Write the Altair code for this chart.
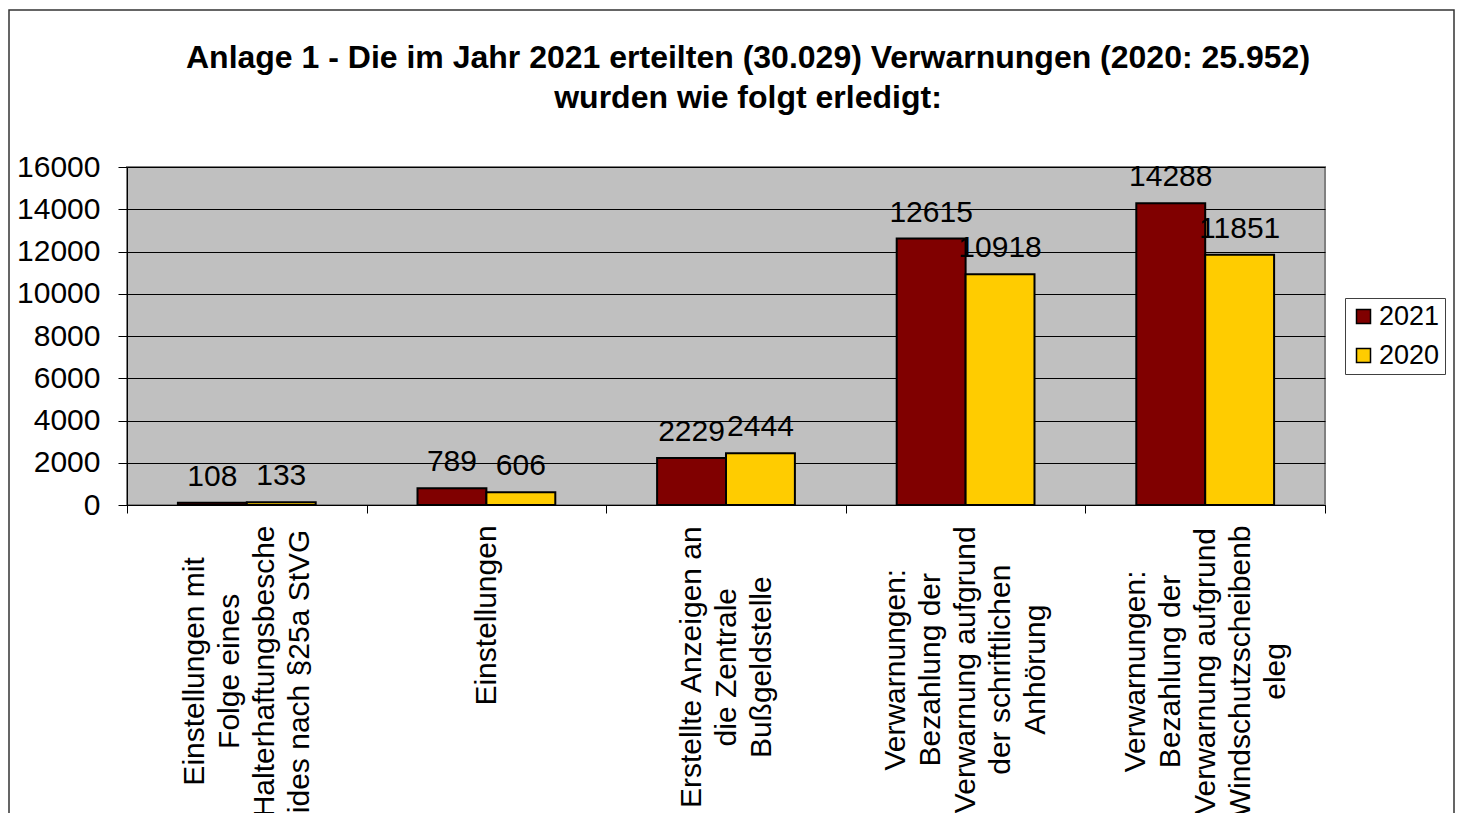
import json
import altair as alt
import pandas as pd

FONT = "Liberation Sans"

# ---- data -------------------------------------------------------------
category_lines = [
    ["Einstellungen mit", "Folge eines", "Halterhaftungsbesche", "ides nach §25a StVG"],
    ["Einstellungen"],
    ["Erstellte Anzeigen an", "die Zentrale", "Bußgeldstelle"],
    ["Verwarnungen:", "Bezahlung der", "Verwarnung aufgrund", "der schriftlichen", "Anhörung"],
    ["Verwarnungen:", "Bezahlung der", "Verwarnung aufgrund", "Windschutzscheibenb", "eleg"],
]
years = ["2021", "2020"]
values_2021 = [108, 789, 2229, 12615, 14288]
values_2020 = [133, 606, 2444, 10918, 11851]
y_ticks = [0, 2000, 4000, 6000, 8000, 10000, 12000, 14000, 16000]
title_lines = [
    "Anlage 1 - Die im Jahr 2021 erteilten (30.029) Verwarnungen (2020: 25.952)",
    "wurden wie folgt erledigt:",
]
colors = ["#800000", "#FFCC00"]

categories = ["|".join(lines) for lines in category_lines]

rows = []
for cat, v21, v20 in zip(categories, values_2021, values_2020):
    rows.append({"category": cat, "year": "2021", "value": v21})
    rows.append({"category": cat, "year": "2020", "value": v20})
df = pd.DataFrame(rows)

# ---- label layout (centre multi-line rotated labels like Excel) --------
ARIAL = {
    " ": 278, "a": 556, "b": 556, "c": 500, "d": 556, "e": 556, "f": 278, "g": 556,
    "h": 556, "i": 222, "j": 222, "k": 500, "l": 222, "m": 833, "n": 556, "o": 556,
    "p": 556, "q": 556, "r": 333, "s": 500, "t": 278, "u": 556, "v": 500, "w": 722,
    "x": 500, "y": 500, "z": 500, "A": 667, "B": 667, "E": 667, "F": 611, "H": 722,
    "S": 667, "V": 667, "W": 944, "G": 778, "Z": 611, "§": 556, "ß": 611, "ö": 556,
    ":": 278, ".": 278,
}
LABEL_SIZE = 30
LINE_H = 35


def text_width(s, size):
    return sum(ARIAL.get(ch, 556) for ch in s) / 1000.0 * size


GAP = 12
pad_conds = []
off_conds = []
for cat, lines in zip(categories, category_lines):
    test = "datum.value === " + json.dumps(cat)
    longest = max(text_width(l, LABEL_SIZE) for l in lines)
    pad_conds.append({"test": test, "value": round(GAP + longest / 2, 1)})
    off_conds.append({"test": test, "value": -(len(lines) - 1) * LINE_H / 2})
label_padding = {"condition": pad_conds, "value": 100}
label_offset = {"condition": off_conds, "value": 0}

# ---- chart --------------------------------------------------------------
x_enc = alt.X(
    "category:N",
    sort=categories,
    title=None,
    scale=alt.Scale(paddingInner=0, paddingOuter=0),
    axis=alt.Axis(
        labelExpr="split(datum.label, '|')",
        labelAngle=270,
        labelAlign="center",
        labelBaseline="middle",
        labelPadding=label_padding,
        labelOffset=label_offset,
        labelLineHeight=LINE_H,
        labelFont=FONT,
        labelFontSize=LABEL_SIZE,
        labelColor="black",
        labelLimit=2000,
        labelOverlap=False,
        tickBand="extent",
        tickSize=8,
        tickColor="black",
        domainColor="black",
        domainWidth=1,
        grid=False,
    ),
)
xoff_enc = alt.XOffset(
    "year:N", sort=years, scale=alt.Scale(paddingInner=0, paddingOuter=0.7388)
)
y_enc = alt.Y(
    "value:Q",
    title=None,
    scale=alt.Scale(domain=[0, 16000], nice=False),
    axis=alt.Axis(
        values=y_ticks,
        labelFont=FONT,
        labelFontSize=30,
        labelColor="black",
        labelPadding=18,
        tickSize=9,
        tickColor="black",
        domainColor="black",
        grid=True,
        gridColor="black",
        gridWidth=1,
        format="d",
    ),
)

base = alt.Chart(df)

bars = base.mark_bar(stroke="black", strokeWidth=2).encode(
    x=x_enc,
    xOffset=xoff_enc,
    y=y_enc,
    color=alt.Color(
        "year:N",
        sort=years,
        scale=alt.Scale(domain=years, range=colors),
        legend=alt.Legend(
            title=None,
            orient="none",
            legendX=1218,
            legendY=131,
            strokeColor="#404040",
            fillColor="white",
            padding=5,
            symbolType="square",
            symbolSize=196,
            symbolStrokeColor="black",
            symbolStrokeWidth=1.5,
            symbolOpacity=1,
            labelFont=FONT,
            labelFontSize=27,
            labelColor="black",
            rowPadding=11,
            labelOffset=2,
        ),
    ),
)

value_labels = base.mark_text(
    font=FONT, fontSize=30, color="black", baseline="alphabetic", dy=-17
).encode(
    x=alt.X("category:N", sort=categories),
    xOffset=xoff_enc,
    y=alt.Y("value:Q"),
    text=alt.Text("value:Q", format="d"),
)

frame = alt.Chart(pd.DataFrame({"k": [0]})).mark_rect(
    fillOpacity=0, stroke="#333333", strokeWidth=1.5
).encode(
    x=alt.value(-118), x2=alt.value(1327), y=alt.value(-157), y2=alt.value(700)
)

chart = (
    alt.layer(frame, bars, value_labels)
    .properties(
        width=1198,
        height=338,
        autosize=alt.AutoSizeParams(type="none"),
        padding={"left": 119, "top": 159, "right": 130, "bottom": 308},
        title=alt.Title(
            text=title_lines,
            font=FONT,
            fontSize=32,
            fontWeight="bold",
            color="black",
            anchor="middle",
            frame="group",
            dx=22,
            offset=-106,
            lineHeight=40,
        ),
        background="white",
    )
    .configure_view(fill="#C0C0C0", stroke="#808080", strokeWidth=2)
)

chart.save("out.html", embed_options={"renderer": "svg", "actions": False})
